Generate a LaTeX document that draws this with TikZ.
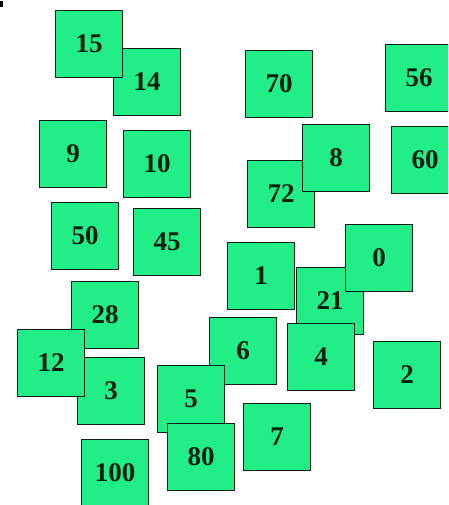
\documentclass[tikz,border=0pt]{standalone}
\usepackage{fontspec}
\setmainfont{Liberation Serif}
\definecolor{cardfill}{RGB}{34,238,136}
\definecolor{cardline}{RGB}{15,35,20}
\definecolor{cardtext}{RGB}{8,30,15}
\tikzset{
  card/.style={draw=cardline, line width=1.8pt, fill=cardfill, inner sep=0pt,
    minimum width=67pt, minimum height=67pt, text=cardtext,
    font=\fontsize{27}{27}\selectfont\bfseries}
}
\begin{document}
\begin{tikzpicture}[x=1pt,y=-1pt]
\useasboundingbox (0,0) rectangle (448,505);
\clip (0,0) rectangle (448,505);
\fill[black] (0,1) rectangle (3,7);
\node[card] (b14) at (147,82) {14};
\node[card] (b15) at (89,44) {15};
\node[card] (b9) at (73,154) {9};
\node[card] (b10) at (157,164) {10};
\node[card] (b70) at (279,84) {70};
\node[card] (b56) at (419,78) {56};
\node[card] (b72) at (281,194) {72};
\node[card] (b8) at (336,158) {8};
\node[card] (b60) at (425,160) {60};
\node[card] (b50) at (85,236) {50};
\node[card] (b45) at (167,242) {45};
\node[card] (b28) at (105,315) {28};
\node[card] (b3) at (111,391) {3};
\node[card] (b12) at (51,363) {12};
\node[card] (b21) at (330,301) {21};
\node[card] (b1) at (261,276) {1};
\node[card] (b0) at (379,258) {0};
\node[card] (b4) at (321,357) {4};
\node[card] (b6) at (243,351) {6};
\node[card] (b5) at (191,399) {5};
\node[card] (b80) at (201,457) {80};
\node[card] (b100) at (115,473) {100};
\node[card] (b2) at (407,375) {2};
\node[card] (b7) at (277,437) {7};
\end{tikzpicture}
\end{document}
